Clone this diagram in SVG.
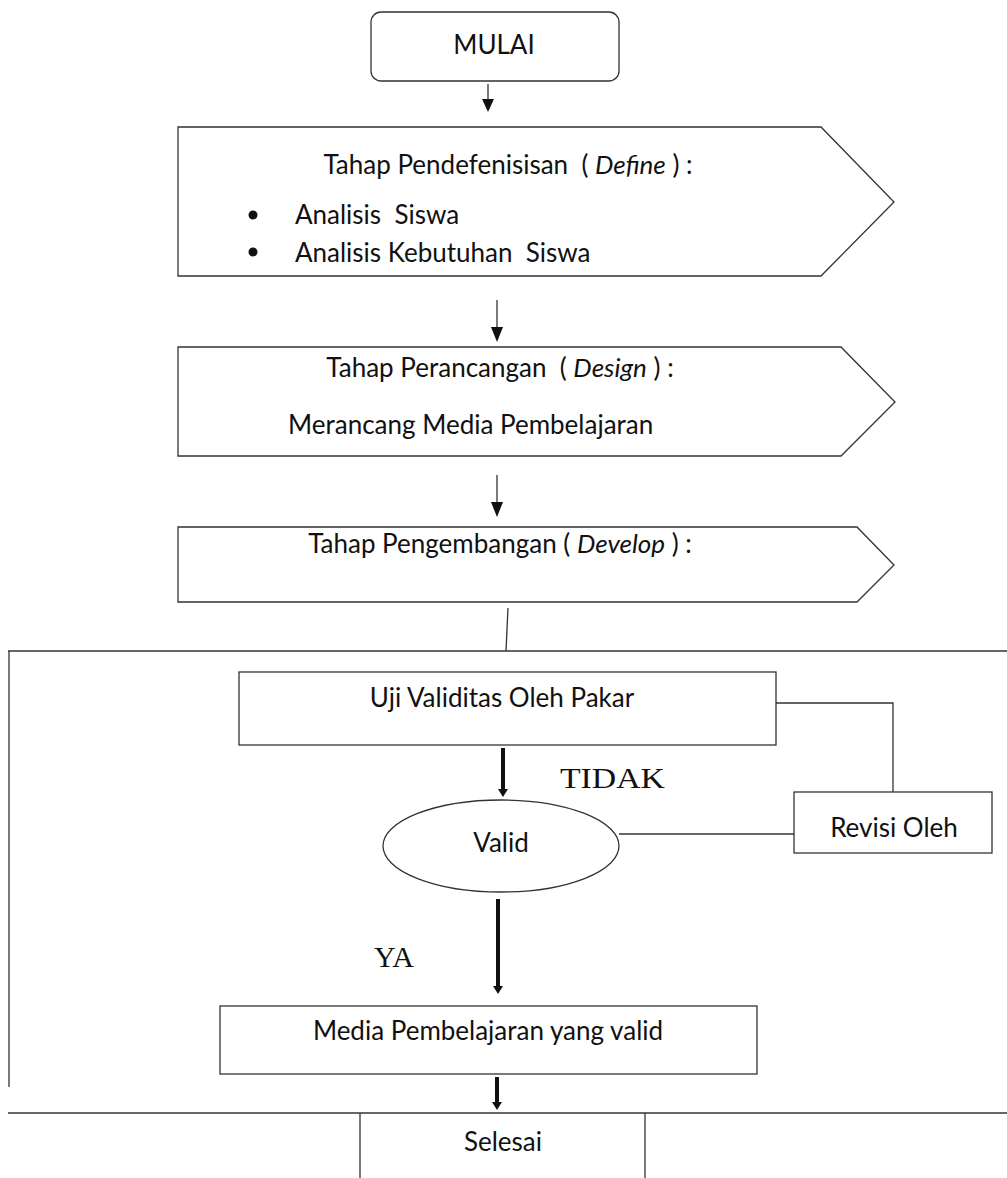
<svg xmlns="http://www.w3.org/2000/svg" width="1007" height="1178" viewBox="0 0 1007 1178">
<style>
.s{fill:#fff;stroke:#333;stroke-width:1.3}
.l{fill:none;stroke:#333;stroke-width:1.3}
.t{font-family:Lato,"Liberation Sans",sans-serif;font-size:26px;fill:#111}
.m{text-anchor:middle}
.r{font-family:"Liberation Serif",serif;font-size:30px;fill:#111}
.k{stroke:#111;stroke-width:4;fill:none}
</style>
<rect width="1007" height="1178" fill="#fff"/>
<g id="mulai"><rect class="s" x="371" y="12" width="248" height="69" rx="10"/><text class="t m" x="494" y="54">MULAI</text></g>
<g id="define"><polygon class="s" points="178,127 821,127 894,202 821,276 178,276"/>
<text class="t m" x="508" y="174" xml:space="preserve">Tahap Pendefenisisan  ( <tspan font-style="italic">Define</tspan> ) :</text>
<circle cx="253" cy="215" r="4.5" fill="#111"/><circle cx="253" cy="252" r="4.5" fill="#111"/>
<text class="t" x="295" y="224" xml:space="preserve">Analisis  Siswa</text>
<text class="t" x="295" y="262" xml:space="preserve">Analisis Kebutuhan  Siswa</text></g>
<g id="design"><polygon class="s" points="178,347 841,347 895,402 841,456 178,456"/>
<text class="t m" x="500" y="377" xml:space="preserve">Tahap Perancangan  ( <tspan font-style="italic">Design</tspan> ) :</text>
<text class="t" x="288" y="434">Merancang Media Pembelajaran</text></g>
<g id="develop"><polygon class="s" points="178,527 857,527 894,565 857,602 178,602"/>
<text class="t m" x="500" y="553">Tahap Pengembangan ( <tspan font-style="italic">Develop</tspan> ) :</text></g>
<g id="uji"><rect class="s" x="239" y="672" width="537" height="73"/><text class="t m" x="502" y="707">Uji Validitas Oleh Pakar</text></g>
<g id="valid"><ellipse class="s" cx="501" cy="846" rx="118" ry="46"/><text class="t m" x="501" y="852">Valid</text></g>
<g id="revisi"><rect class="s" x="794" y="792" width="198" height="61"/><text class="t m" x="894" y="837">Revisi Oleh</text></g>
<g id="media"><rect class="s" x="220" y="1006" width="537" height="68"/><text class="t m" x="488" y="1040">Media Pembelajaran yang valid</text></g>
<g id="selesai"><line class="l" x1="360" y1="1113" x2="360" y2="1178"/><line class="l" x1="645" y1="1113" x2="645" y2="1178"/><text class="t m" x="503" y="1151">Selesai</text></g>
<g id="labels"><text class="r" x="560" y="788" textLength="105" lengthAdjust="spacingAndGlyphs">TIDAK</text><text class="r" x="374" y="967">YA</text></g>
<g id="connectors">
<line class="l" x1="488" y1="84" x2="488" y2="100"/><polygon points="482,99 494,99 488,112" fill="#111"/>
<line class="l" x1="497" y1="300" x2="497" y2="328"/><polygon points="491,327 503,327 497,342" fill="#111"/>
<line class="l" x1="497" y1="475" x2="497" y2="503"/><polygon points="491,502 503,502 497,517" fill="#111"/>
<line class="l" x1="508" y1="608" x2="506" y2="651"/>
<line class="l" x1="8" y1="651" x2="1007" y2="651"/>
<line class="l" x1="9" y1="651" x2="9" y2="1087"/>
<line class="l" x1="8" y1="1113" x2="1007" y2="1113"/>
<polyline class="l" points="776,703 893,703 893,792"/>
<line class="l" x1="619" y1="834" x2="794" y2="834"/>
<line class="k" x1="503" y1="748" x2="503" y2="790"/><polygon points="498,789 508,789 503,797" fill="#111"/>
<line class="k" x1="498" y1="899" x2="498" y2="987"/><polygon points="493,986 503,986 498,994" fill="#111"/>
<line class="k" x1="497" y1="1077" x2="497" y2="1103"/><polygon points="492,1102 502,1102 497,1110" fill="#111"/>
</g>
</svg>
